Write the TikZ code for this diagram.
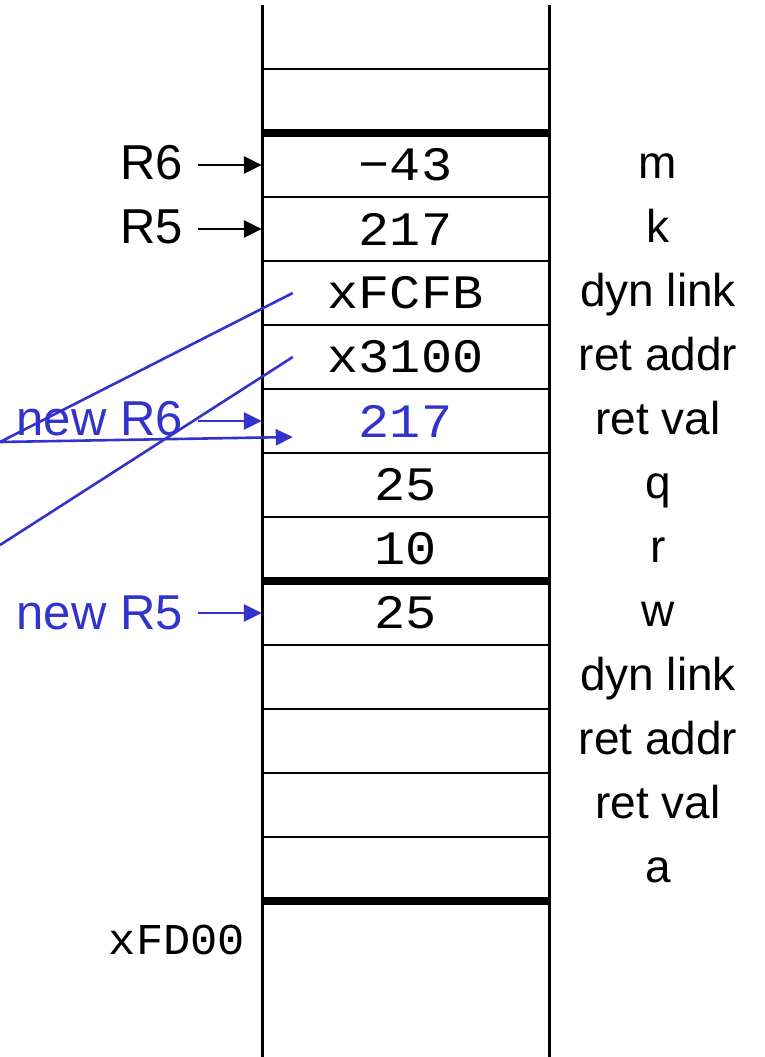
\documentclass[tikz,border=0pt]{standalone}
\usepackage{fontspec}
\setmainfont{Liberation Sans}
\newfontfamily\monofont[FakeStretch=1.08]{Liberation Mono}
\newfontfamily\addrfont[FakeStretch=1.03]{Liberation Mono}
\usetikzlibrary{arrows.meta}
\definecolor{ptrblue}{RGB}{51,51,204}

\begin{document}
\begin{tikzpicture}[x=1pt,y=-1pt,
  wall/.style={line width=3pt},
  divider/.style={line width=2.8pt},
  frameline/.style={line width=8pt},
  cell/.style={minimum width=287pt, minimum height=64pt, inner sep=0pt,
    font=\monofont\fontsize{48}{48}\selectfont},
  tag/.style={font=\fontsize{46}{46}\selectfont, anchor=base, inner sep=0pt},
  reg/.style={font=\fontsize{49}{49}\selectfont, anchor=base east, inner sep=0pt},
  ptr/.style={line width=2.8pt, shorten <=15pt, -{Triangle[length=18pt,width=17pt]}},
  link/.style={line width=2.6pt, ptrblue},
]
\useasboundingbox (0,0) rectangle (765,1057);

% stack walls
\draw[wall] (262,5) -- (262,1057);
\draw[wall] (549,5) -- (549,1057);

% slot dividers
\foreach \y in {69,197,261,325,389,453,517,645,709,773,837}
  \draw[divider] (262,\y) -- (549,\y);
% frame boundaries
\foreach \y in {133,581,901}
  \draw[frameline] (262,\y) -- (549,\y);

% slot contents
\node[cell] (cm)  at (405.5,165) {−43};
\node[cell] (ck)  at (405.5,229) {217};
\node[cell] (cdl) at (405.5,293) {xFCFB};
\node[cell] (cra) at (405.5,357) {x3100};
\node[cell, text=ptrblue] (crv) at (405.5,421) {217};
\node[cell] (cq)  at (405.5,485) {25};
\node[cell] (cr)  at (405.5,549) {10};
\node[cell] (cw)  at (405.5,613) {25};
\node[cell] (cdl2) at (405.5,677) {};
\node[cell] (cra2) at (405.5,741) {};
\node[cell] (crv2) at (405.5,805) {};
\node[cell] (ca)  at (405.5,869) {};

% slot names
\node[tag] (tm)   at (658,178) {m};
\node[tag] (tk)   at (658,242) {k};
\node[tag] (tdl)  at (658,306) {dyn link};
\node[tag] (tra)  at (658,370) {ret addr};
\node[tag] (trv)  at (658,434) {ret val};
\node[tag] (tq)   at (658,498) {q};
\node[tag] (tr)   at (658,562) {r};
\node[tag] (tw)   at (658,626) {w};
\node[tag] (tdl2) at (658,690) {dyn link};
\node[tag] (tra2) at (658,754) {ret addr};
\node[tag] (trv2) at (658,818) {ret val};
\node[tag] (ta)   at (658,882) {a};

% base address
\node[font=\addrfont\fontsize{44}{44}\selectfont, anchor=base east, inner sep=0pt]
  (base) at (245,954) {xFD00};

% registers
\node[reg] (R6) at (183,179) {R6};
\node[reg] (R5) at (183,243) {R5};
\node[reg, text=ptrblue] (nR6) at (183,435) {new R6};
\node[reg, text=ptrblue] (nR5) at (183,629) {new R5};

\draw[ptr] (R6.east |- cm.west) -- (cm.west);
\draw[ptr] (R5.east |- ck.west) -- (ck.west);
\draw[ptr, ptrblue] (nR6.east |- crv.west) -- (crv.west);
\draw[ptr, ptrblue] (nR5.east |- cw.west) -- (cw.west);

% copies into the new frame
\coordinate (dlsrc) at ([xshift=31pt]cdl.west);
\coordinate (rasrc) at ([xshift=31pt]cra.west);
\coordinate (bend)  at (0,442);
\coordinate (rvdst) at ([shift={(31,16)}]crv.west);
\coordinate (raend) at (0,545);
\draw[link, -{Triangle[length=17pt,width=16pt]}] (dlsrc) -- (bend) -- (rvdst);
\draw[link] (rasrc) -- (raend);
\end{tikzpicture}
\end{document}
